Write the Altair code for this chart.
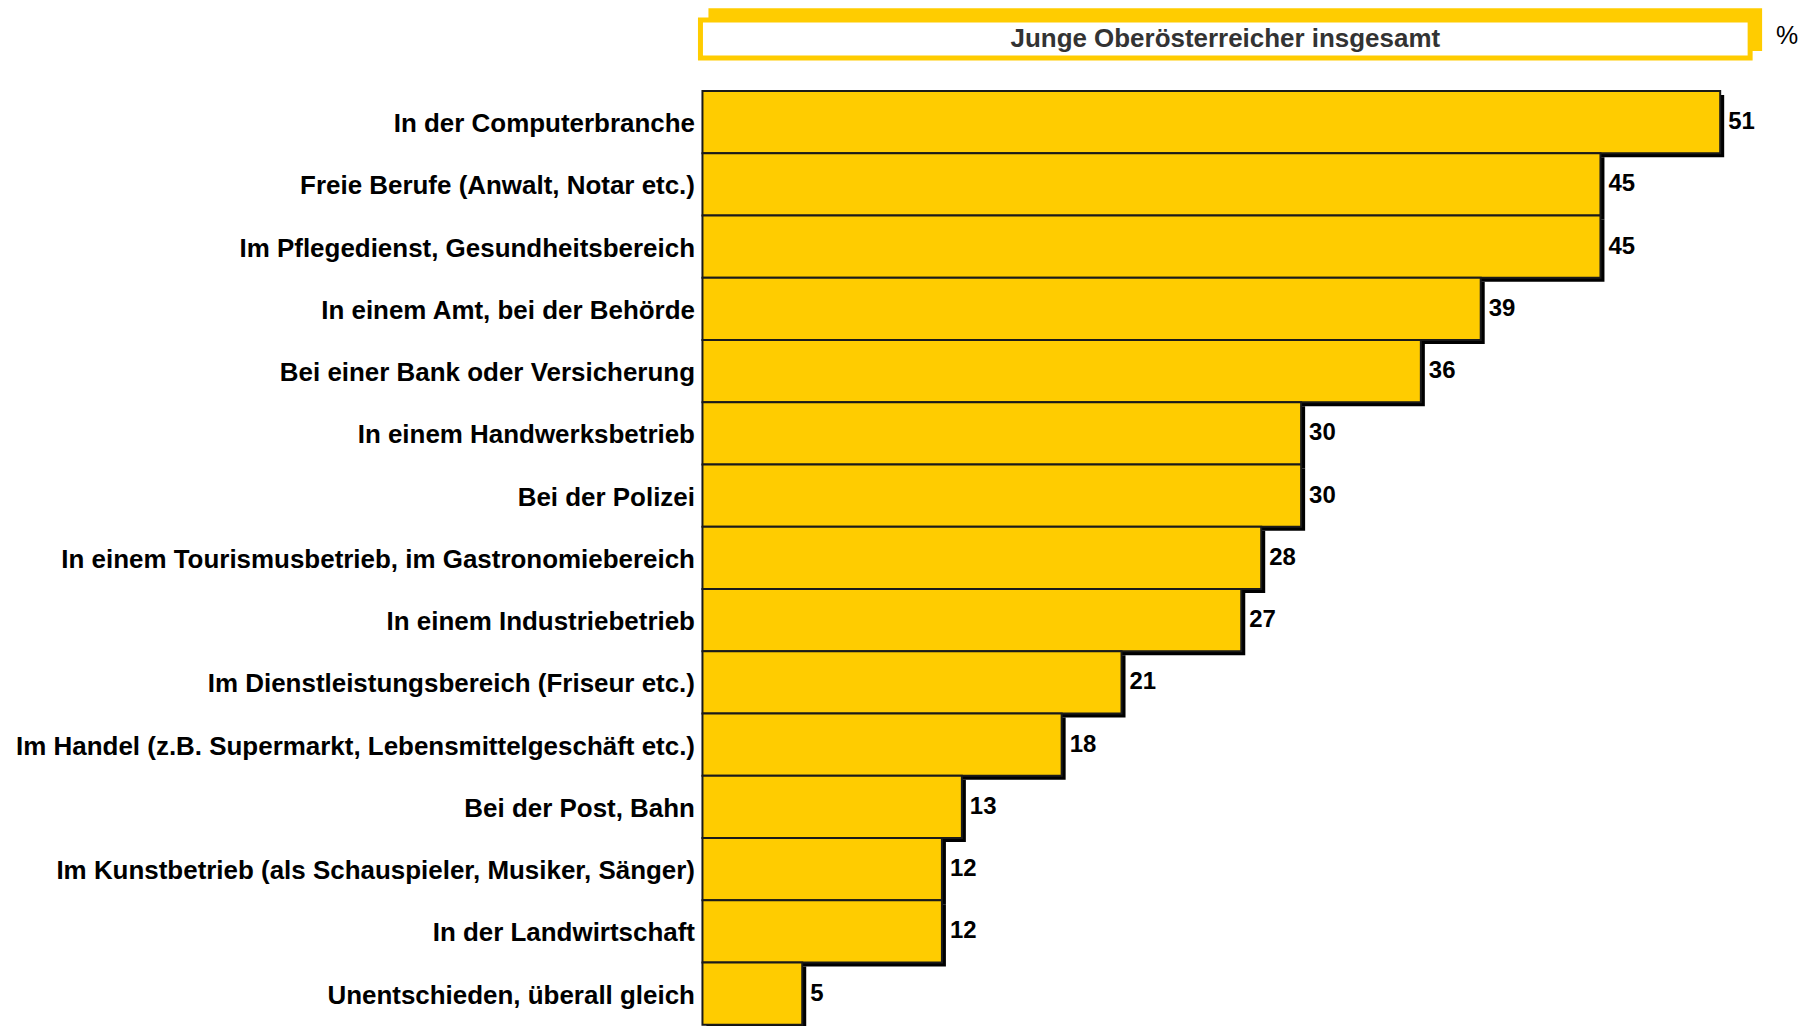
import altair as alt
import pandas as pd

categories = [
    "In der Computerbranche",
    "Freie Berufe (Anwalt, Notar etc.)",
    "Im Pflegedienst, Gesundheitsbereich",
    "In einem Amt, bei der Behörde",
    "Bei einer Bank oder Versicherung",
    "In einem Handwerksbetrieb",
    "Bei der Polizei",
    "In einem Tourismusbetrieb, im Gastronomiebereich",
    "In einem Industriebetrieb",
    "Im Dienstleistungsbereich (Friseur etc.)",
    "Im Handel (z.B. Supermarkt, Lebensmittelgeschäft etc.)",
    "Bei der Post, Bahn",
    "Im Kunstbetrieb (als Schauspieler, Musiker, Sänger)",
    "In der Landwirtschaft",
    "Unentschieden, überall gleich",
]
values = [51, 45, 45, 39, 36, 30, 30, 28, 27, 21, 18, 13, 12, 12, 5]
header_text = ["Junge Oberösterreicher insgesamt"]
unit_text = ["%"]

df = pd.DataFrame({"cat": categories, "val": values})
FONT = "Liberation Sans"
YELLOW = "#FFCC00"

x_enc = alt.X("val:Q", scale=alt.Scale(domain=[0, 55], nice=False, zero=True), axis=None)
y_enc = alt.Y(
    "cat:N",
    sort=categories,
    scale=alt.Scale(paddingInner=0, paddingOuter=0),
    axis=alt.Axis(
        title=None, ticks=False, domain=False, labelFontSize=26,
        labelFontWeight="bold", labelColor="#000000", labelFont=FONT,
        labelPadding=8, labelLimit=900, labelBaseline="middle", labelOffset=2,
    ),
)

base = alt.Chart(df)
shadow = base.mark_bar(color="#000000", xOffset=4, yOffset=4).encode(x=x_enc, y=y_enc)
bars = base.mark_bar(fill=YELLOW, stroke="#1a1a1a", strokeWidth=2).encode(x=x_enc, y=y_enc)
labels = base.mark_text(
    align="left", baseline="middle", dx=8, fontSize=24, fontWeight="bold", font=FONT, color="#000000"
).encode(x=x_enc, y=y_enc, text="val:Q")

hdf = pd.DataFrame({"t": header_text})
udf = pd.DataFrame({"t": unit_text})
back = alt.Chart(hdf).mark_rect(fill=YELLOW).encode(
    x=alt.value(6), x2=alt.value(1062), y=alt.value(-83), y2=alt.value(-40)
)
front = alt.Chart(hdf).mark_rect(fill="#ffffff", stroke=YELLOW, strokeWidth=5).encode(
    x=alt.value(-2), x2=alt.value(1050), y=alt.value(-71), y2=alt.value(-33)
)
htext = alt.Chart(hdf).mark_text(
    fontSize=26, fontWeight="bold", font=FONT, color="#333333", align="center", baseline="middle"
).encode(x=alt.value(524), y=alt.value(-52), text="t:N")
utext = alt.Chart(udf).mark_text(
    fontSize=25, font=FONT, color="#000000", align="center", baseline="middle"
).encode(x=alt.value(1087), y=alt.value(-55), text="t:N")

chart = (
    alt.layer(shadow, bars, labels, back, front, htext, utext)
    .properties(
        width=1100,
        height=936,
        autosize=alt.AutoSizeParams(type="none"),
        padding={"left": 696, "top": 82, "right": 8, "bottom": 0},
    )
    .configure_view(stroke=None)
)

chart.save("out.html", embed_options={"renderer": "svg", "actions": False})
